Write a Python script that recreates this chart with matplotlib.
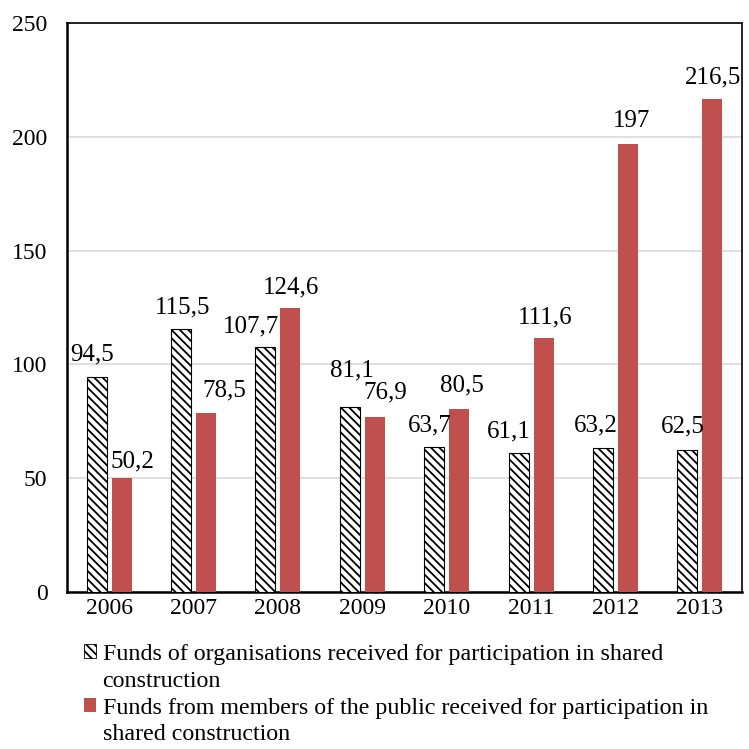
import numpy as np
import matplotlib.pyplot as plt
from matplotlib.patches import Patch

years = ["2006", "2007", "2008", "2009", "2010", "2011", "2012", "2013"]
organisations = [94.5, 115.5, 107.7, 81.1, 63.7, 61.1, 63.2, 62.5]
public = [50.2, 78.5, 124.6, 76.9, 80.5, 111.6, 197, 216.5]

org_label = "Funds of organisations received for participation in shared construction"
pub_label = "Funds from members of the public received for participation in shared construction"

# hand-placed label nudges (pixels from bar top)
org_offsets = [(-5, 22), (2, 22), (-14, 20), (2, 37), (-4, 22), (-10, 21), (-7, 23), (-5, 23)]
pub_offsets = [(11, 16), (18, 23), (1, 21), (10, 25), (3, 23), (2, 21), (4, 23), (1, 22)]

RED = "#C0504D"
FONT = "Liberation Serif"

plt.rcParams["font.family"] = FONT
plt.rcParams["hatch.linewidth"] = 1.3

fig = plt.figure(figsize=(7.49, 7.49), dpi=100)
ax = fig.add_axes([67 / 749, 1 - 592 / 749, 675 / 749, 569 / 749])

x = np.arange(len(years))
w = 0.237
off = 0.148

ax.bar(x - off, organisations, w, color="white", edgecolor="black",
       hatch="\\\\\\\\", linewidth=0.8, zorder=3)
ax.bar(x + off, public, w, color=RED, edgecolor="none", zorder=3)


def fmt(v):
    s = ("%g" % v).replace(".", ",")
    return s


for i in range(len(years)):
    ax.annotate(fmt(organisations[i]), (x[i] - off, organisations[i]),
                xytext=org_offsets[i], textcoords="offset pixels",
                ha="center", va="center", fontsize=18)
    ax.annotate(fmt(public[i]), (x[i] + off, public[i]),
                xytext=pub_offsets[i], textcoords="offset pixels",
                ha="center", va="center", fontsize=18)

ax.set_xlim(-0.5, len(years) - 0.5)
ax.set_ylim(0, 250)
ax.set_yticks([0, 50, 100, 150, 200, 250])
ax.set_xticks(x)
ax.set_xticklabels(years)
ax.tick_params(axis="both", length=0, labelsize=17)
ax.tick_params(axis="y", pad=14)
ax.tick_params(axis="x", pad=4)
ax.yaxis.grid(True, color="#d9d9d9", linewidth=1.2, zorder=0)
ax.set_axisbelow(True)

for side in ["left", "bottom"]:
    ax.spines[side].set_linewidth(1.8)
for side in ["top", "right"]:
    ax.spines[side].set_linewidth(1.2)

# legend: long labels split across two rows, marker only on the first
blank = Patch(facecolor="none", edgecolor="none")
handles = [
    Patch(facecolor="white", edgecolor="black", hatch="\\\\\\\\", linewidth=0.6),
    blank,
    Patch(facecolor=RED, edgecolor="none"),
    blank,
]
org_words = org_label.rsplit(" ", 1)
pub_words = pub_label.rsplit(" ", 2)
labels = [org_words[0], org_words[1], pub_words[0], " ".join(pub_words[1:])]
fig.legend(handles, labels, loc="upper left", bbox_to_anchor=(84 / 749, 1 - 644 / 749),
           frameon=False, fontsize=17.3, handlelength=0.52, handleheight=0.52,
           handletextpad=0.25, labelspacing=0.24, borderpad=0, borderaxespad=0)

fig.savefig("out.png", dpi=100)
